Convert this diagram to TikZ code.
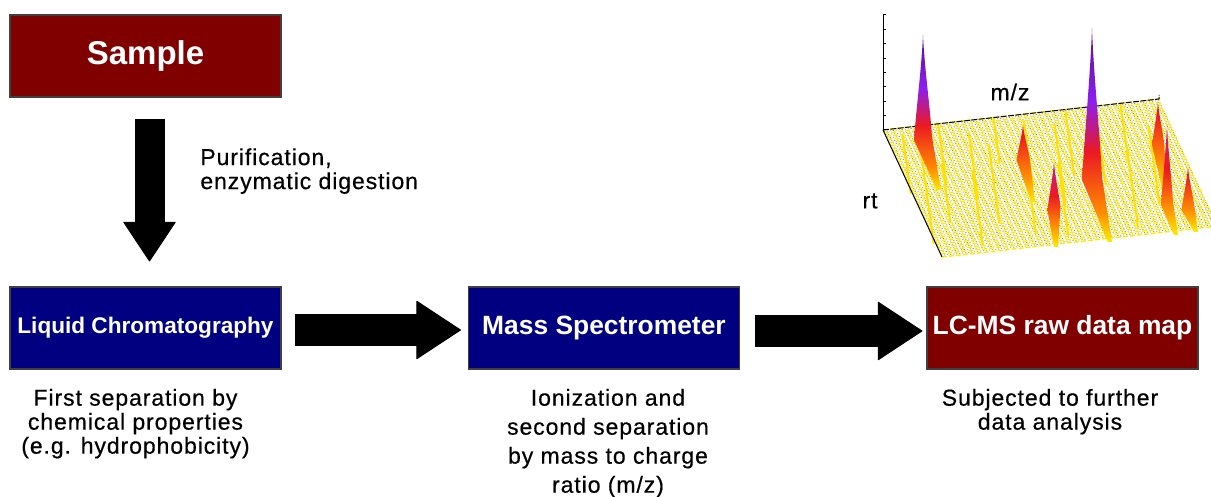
\documentclass[tikz,border=0pt]{standalone}
\usepackage{fontspec}
\setmainfont{Liberation Sans}
\newfontfamily\descfont[LetterSpace=4, FakeBold=0.5]{Liberation Sans}
\usetikzlibrary{arrows.meta, positioning}

\definecolor{lcblue}{RGB}{0,0,128}
\definecolor{lcred}{RGB}{128,0,0}
\definecolor{peakyellow}{RGB}{255,235,0}
\definecolor{peakorange}{RGB}{255,140,0}
\definecolor{peakred}{RGB}{235,25,35}
\definecolor{peakmagenta}{RGB}{190,30,160}
\definecolor{peakviolet}{RGB}{140,30,240}
\definecolor{floorgray}{RGB}{140,140,140}

\pgfdeclareverticalshading{tallpeak}{100bp}{color(0bp)=(peakyellow); color(25bp)=(peakyellow); color(32bp)=(peakorange); color(46bp)=(peakred); color(58bp)=(peakviolet); color(75bp)=(peakviolet!60!black); color(100bp)=(peakviolet!60!black)}
\pgfdeclareverticalshading{midpeak}{100bp}{color(0bp)=(peakyellow); color(25bp)=(peakyellow); color(38bp)=(peakorange); color(55bp)=(peakred); color(75bp)=(peakmagenta); color(100bp)=(peakmagenta)}
\pgfdeclareverticalshading{smallpeak}{100bp}{color(0bp)=(peakyellow); color(25bp)=(peakyellow); color(42bp)=(peakorange); color(68bp)=(peakred); color(100bp)=(peakred)}

\begin{document}
\begin{tikzpicture}
        [
            x=0.5pt, y=-0.5pt,
            box/.style={rectangle, draw=black!75, line width=0.6pt, minimum width=135.5pt, minimum height=41pt, inner sep=0pt, text=white},
            bluebox/.style={box, fill=lcblue},
            redbox/.style={box, fill=lcred},
            boxfont/.style={font=\bfseries\fontsize{#1}{#1}\selectfont},
            desc/.style={font=\descfont\fontsize{11.5}{12}\selectfont, align=center, inner sep=0pt},
            bigarrow/.style={line width=16pt, -{Triangle[length=22.5pt, width=29.5pt, line width=0.5pt, round]}},
            downarrow/.style={line width=15pt, -{Triangle[length=20pt, width=26.5pt, line width=0.5pt, round]}},
            floorline/.style={peakyellow, line width=0.7pt, dash pattern=on 2.5pt off 1pt},
            floordots/.style={floorgray, line width=0.35pt, dash pattern=on 0.6pt off 0.9pt},
            streak/.style={peakyellow!90!orange, line width=1pt, line cap=round},
            axisline/.style={black, line width=0.5pt},
        ]
        \useasboundingbox (0,0) rectangle (1211,497);

        % process boxes
        \node[redbox, boxfont=16.5] (sample) at (145.5,56) {Sample};
        \node[bluebox, boxfont=11.3] (lc) at (145.5,328) {Liquid Chromatography};
        \node[bluebox, boxfont=13.2] (ms) at (604,328) {Mass Spectrometer};
        \node[redbox, boxfont=13.2] (lcms) at (1062.5,328) {LC-MS raw data map};

        \node[desc, align=left, anchor=north west] (prep) at (200,148) {Purification,\\enzymatic digestion};
        \node[desc, below=9.5pt of lc, xshift=-5pt] (lcnote) {First separation by\\chemical properties\\(e.g. hydrophobicity)};
        \node[desc, font=\descfont\fontsize{11.5}{14.5}\selectfont, below=9.5pt of ms, xshift=2pt] (msnote) {Ionization and\\second separation\\by mass to charge\\ratio (m/z)};
        \node[desc, below=9.5pt of lcms, xshift=-6.25pt] (lcmsnote) {Subjected to further\\data analysis};

        \draw[downarrow, shorten <=10.5pt, shorten >=12.5pt] ([xshift=2pt]sample.south) -- ([xshift=2pt]lc.north);
        \draw[bigarrow, shorten <=6.5pt, shorten >=3.5pt] ([yshift=-1pt]lc.east) -- ([yshift=-1pt]ms.west);
        \draw[bigarrow, shorten <=7.5pt, shorten >=2pt] ([yshift=-1.5pt]ms.east) -- ([yshift=-1.5pt]lcms.west);

        % raw data map
        \begin{scope}
            \clip (0,0) rectangle (1211,497);
            \coordinate (o) at (883,130);
            \coordinate (m) at (1159,99);
            \coordinate (r) at (942,257);
            \foreach \t in {0,...,40}
                \draw[floorline] ({883+1.475*\t},{130+3.175*\t}) -- ++(276,-31);
            \foreach \t in {0,...,39}
                \draw[floordots] ({883.7+1.475*\t},{131.6+3.175*\t}) -- ++(276,-31);
            \foreach \s/\a/\b in {0.06/0.05/0.5, 0.11/0.1/0.9, 0.15/0.3/0.75, 0.2/0.0/0.45, 0.24/0.4/0.95, 0.29/0.1/0.6, 0.34/0.2/0.8, 0.4/0.0/0.35, 0.45/0.3/0.9, 0.5/0.05/0.55, 0.55/0.4/0.95, 0.6/0.1/0.7, 0.66/0.0/0.5, 0.7/0.3/0.9, 0.76/0.05/0.6, 0.81/0.35/0.95, 0.86/0.0/0.45, 0.92/0.2/0.8, 0.97/0.1/0.7}
                \draw[streak] ({883+276*\s+59*\a},{130-31*\s+127*\a}) -- ({883+276*\s+59*\a+18*(\b-\a)},{130-31*\s+127*\a+130*(\b-\a)});
            \draw[axisline] (o) -- (883,15);
            \foreach \k in {0,...,8}
                \draw[axisline] (883,{130-14.375*\k}) -- ++(3,0);
            \draw[axisline, dash pattern=on 3pt off 0.7pt] (o) -- (m) -- ++(0,-4);
            \draw[axisline] (o) -- (r);
            \foreach \ax/\ay/\by/\w/\tx/\ty/\sh in {923/35/140/9/939/190/tallpeak, 1023/125/160/6.5/1033/202/smallpeak, 1054/162/210/6.5/1056/247/midpeak, 1092/28/180/10/1110/242/tallpeak, 1158/102/145/6/1165/192/smallpeak, 1167/125/205/6/1176/235/midpeak, 1188/167/210/6.5/1196/232/smallpeak}
                \shade[shading=\sh] (\ax,\ay) .. controls ({\ax-0.15*\w},{\ay+0.3*(\by-\ay)}) and ({\ax-0.8*\w},{\by-0.25*(\by-\ay)}) .. ({\ax-\w},\by) -- ({\tx-2},\ty) -- ({\tx+2},\ty) -- ({\ax+\w},{\by-3}) .. controls ({\ax+0.8*\w},{\by-0.3*(\by-\ay)}) and ({\ax+0.15*\w},{\ay+0.3*(\by-\ay)}) .. (\ax,\ay) -- cycle;
        \end{scope}
        \node[desc] (mzlabel) at (1010,92) {m/z};
        \node[desc] (rtlabel) at (870,201) {rt};
\end{tikzpicture}
\end{document}
